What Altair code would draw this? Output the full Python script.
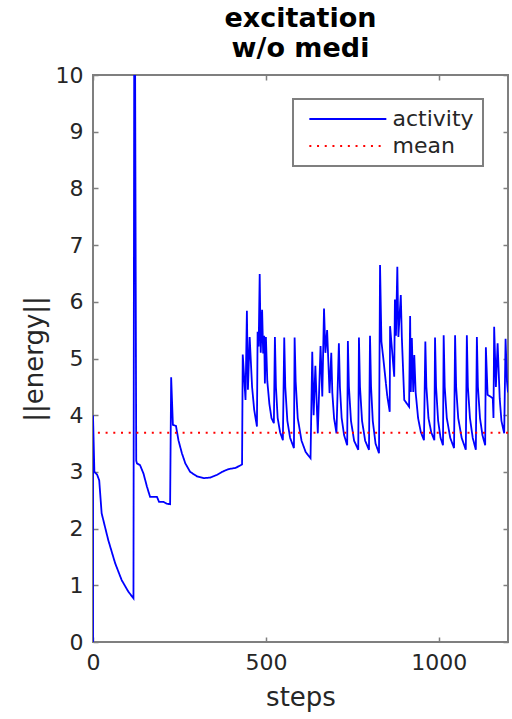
import altair as alt
import pandas as pd

FONT = "DejaVu Sans"
AXIS_GRAY = "#7f7f7f"
TEXT = "#262626"

steps = [0, 0, 4, 12, 18, 25, 44, 64, 83, 102, 117, 120, 125, 127, 136, 146, 156, 165, 175, 185, 191, 204, 213, 223,
         226, 231, 240, 247, 257, 267, 281, 301, 320, 339, 359, 373, 392, 412, 431,
         433, 441, 445, 448, 453, 460, 466, 474, 476, 479, 482, 485, 489, 492, 495, 497, 500, 504, 510, 516, 523,
         526, 529, 534, 541, 549,
         553, 556, 562, 570, 581,
         583, 586, 592, 603, 615, 629,
         634, 638, 643, 650, 658, 663, 668, 672, 677, 684, 689, 692, 697, 704,
         711, 714, 719, 726, 735,
         737, 740, 746, 755, 767,
         769, 772, 778, 787, 798,
         801, 804, 809, 817, 827,
         830, 834, 840, 851, 858,
         859, 871, 873, 876, 880, 883, 890, 893, 900, 914,
         917, 919, 922, 926, 929, 933, 940, 948, 957,
         961, 964, 970, 978, 987,
         989, 992, 998, 1005, 1012,
         1014, 1017, 1023, 1033, 1044,
         1047, 1050, 1056, 1066, 1078,
         1081, 1084, 1090, 1098, 1107,
         1110, 1113, 1119, 1126, 1134,
         1136, 1141, 1156, 1158, 1160, 1165, 1170, 1176, 1181, 1189, 1193, 1197, 1200]

energy = [0, 4.0, 3.0, 2.95, 2.85, 2.27, 1.8, 1.39, 1.09, 0.89, 0.77, 14, 3.2, 3.15, 3.12, 2.97, 2.74, 2.56, 2.56, 2.56, 2.47, 2.47, 2.44, 2.43,
          4.67, 3.83, 3.81, 3.56, 3.33, 3.15, 3.0, 2.92, 2.89, 2.90, 2.95, 3.0, 3.05, 3.07, 3.13,
          5.07, 4.27, 5.84, 4.45, 5.38, 4.50, 4.1, 3.80, 5.47, 5.21, 6.49, 5.1, 5.86, 5.09, 5.4, 4.56, 5.38, 4.6, 4.2, 3.95, 3.86,
          5.38, 4.5, 3.95, 3.7, 3.56,
          5.37, 4.5, 3.9, 3.6, 3.42,
          5.37, 4.6, 3.95, 3.55, 3.35, 3.24,
          5.12, 4.0, 4.87, 3.68, 5.22, 4.33, 5.88, 5.10, 5.50, 4.39, 5.10, 4.4, 3.95, 3.68,
          5.27, 4.5, 3.95, 3.65, 3.47,
          5.31, 4.5, 3.9, 3.55, 3.39,
          5.37, 4.5, 3.9, 3.55, 3.39,
          5.40, 4.5, 3.9, 3.5, 3.33,
          6.65, 5.3, 4.97, 4.33, 4.06,
          5.57, 4.68, 6.04, 5.4, 6.62, 5.38, 6.12, 5.38, 4.27, 4.15,
          5.75, 4.41, 5.36, 4.41, 5.06, 4.4, 3.95, 3.7, 3.56,
          5.30, 4.5, 3.95, 3.7, 3.56,
          5.37, 4.5, 3.9, 3.6, 3.47,
          5.41, 4.5, 3.95, 3.6, 3.42,
          5.41, 4.5, 3.95, 3.6, 3.39,
          5.41, 4.5, 3.95, 3.6, 3.39,
          5.38, 4.5, 3.95, 3.65, 3.47,
          5.20, 4.36, 4.30, 3.95, 5.56, 4.5, 5.27, 4.3, 3.9, 3.68, 5.35, 4.6, 4.4]

mean_value = [3.69]
series_names = ["activity", "mean"]
series_colors = ["#0000ff", "#ff0000"]
x_ticks = [0, 500, 1000]
y_ticks = [0, 1, 2, 3, 4, 5, 6, 7, 8, 9, 10]

df = pd.DataFrame({"step": steps, "energy": energy})
df["i"] = range(len(df))
df["series"] = series_names[0]
mean_df = pd.DataFrame({"energy": mean_value, "series": [series_names[1]]})

xscale = alt.Scale(domain=[0, 1200], nice=False, zero=False)
yscale = alt.Scale(domain=[0, 10], nice=False)

common_axis = dict(domain=False, grid=False, ticks=True, tickSize=5, tickColor=AXIS_GRAY,
                   tickWidth=1.5, offset=-5)

bottom_axis = alt.Axis(values=x_ticks, format="d", title="steps", labelFontSize=22, labelFont=FONT,
                       labelColor=TEXT, labelPadding=10, labelFlush=False, titleFontSize=26,
                       titleFont=FONT, titleColor=TEXT, titleFontWeight="normal", titlePadding=11,
                       orient="bottom", **common_axis)
left_axis = alt.Axis(values=y_ticks, format="d", title="||energy||", labelFontSize=22, labelFont=FONT,
                     labelColor=TEXT, labelPadding=10, labelFlush=False, titleFontSize=26,
                     titleFont=FONT, titleColor=TEXT, titleFontWeight="normal", titlePadding=8,
                     orient="left", **common_axis)
top_axis = alt.Axis(values=x_ticks, labels=False, title=None, orient="top", **common_axis)
right_axis = alt.Axis(values=y_ticks, labels=False, title=None, orient="right", **common_axis)

# legend line drawn as a wide custom path so rows stay compact
legend = alt.Legend(title=None, orient="none", legendX=200, legendY=24,
                    symbolType="M-0.38,0H7.62", symbolSize=370.6, symbolStrokeWidth=2,
                    labelFontSize=22, labelFont=FONT, labelColor=TEXT, labelOffset=68.5,
                    padding=9, rowPadding=5, strokeColor=AXIS_GRAY, fillColor="white")

cscale = alt.Scale(domain=series_names, range=series_colors)
dscale = alt.Scale(domain=series_names, range=[[1, 0], [2, 5.7]])

line = alt.Chart(df).mark_line(clip=True, strokeWidth=1.8).encode(
    x=alt.X("step:Q", scale=xscale, axis=bottom_axis),
    y=alt.Y("energy:Q", scale=yscale, axis=left_axis),
    order=alt.Order("i:Q"),
    color=alt.Color("series:N", scale=cscale, legend=legend),
    strokeDash=alt.StrokeDash("series:N", scale=dscale, legend=legend),
)

mean = alt.Chart(mean_df).mark_rule(strokeWidth=2).encode(
    y=alt.Y("energy:Q", scale=yscale, axis=None),
    color=alt.Color("series:N", scale=cscale, legend=legend),
    strokeDash=alt.StrokeDash("series:N", scale=dscale, legend=legend),
)

frame = alt.Chart(df).mark_line(opacity=0, clip=True).encode(
    x=alt.X("step:Q", scale=xscale, axis=top_axis),
    y=alt.Y("energy:Q", scale=yscale, axis=right_axis),
    order=alt.Order("i:Q"),
)

chart = alt.layer(line, mean, frame).resolve_axis(
    x="independent", y="independent"
).properties(
    width=415, height=567,
    autosize=alt.AutoSizeParams(type="none"),
    padding={"left": 93, "top": 75, "right": 4, "bottom": 77},
    title=alt.TitleParams(["excitation", "w/o medi"], fontSize=27, font=FONT, fontWeight="bold",
                          color="black", anchor="middle", offset=1, lineHeight=30),
).configure_view(
    stroke=AXIS_GRAY, strokeWidth=2
).configure_legend(
    strokeWidth=2
)

chart.save("out.html", embed_options={"renderer": "svg", "actions": False})
